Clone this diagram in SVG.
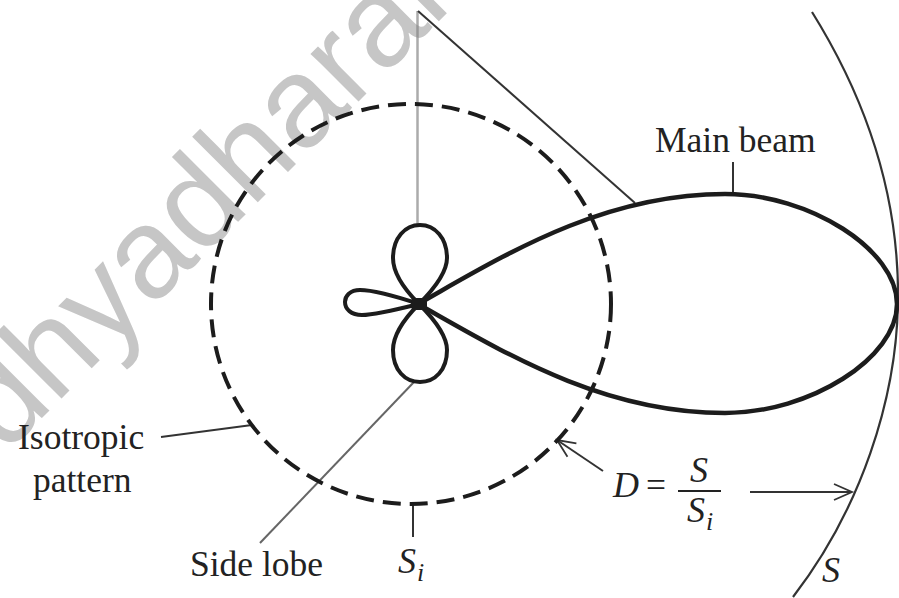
<svg xmlns="http://www.w3.org/2000/svg" width="899" height="598" viewBox="0 0 899 598">
<defs>
<marker id="open" markerUnits="userSpaceOnUse" markerWidth="24" markerHeight="20" refX="20" refY="10" orient="auto"><path d="M2 2 L20 10 L2 18" fill="none" stroke="#333" stroke-width="1.8"/></marker>
</defs>
<style>
.lab{font-family:"Liberation Serif",serif;font-size:35.5px;fill:#222}
.it{font-family:"Liberation Serif",serif;font-style:italic;font-size:36px;fill:#222}
.sub{font-size:26px}
.thin{fill:none;stroke:#333;stroke-width:2}
.lobe{fill:none;stroke:#1c1c1c;stroke-width:4.5}
.wm{font-family:"Liberation Sans",sans-serif;font-size:128px;fill:#c6c6c6}
</style>
<rect width="899" height="598" fill="#fff"/>
<text id="watermark" class="wm" transform="translate(5 455) rotate(-45)">dhyadharal</text>
<g id="connectors">
<path class="thin" d="M417.5 11V225" style="stroke:#808080;stroke-opacity:.66;stroke-width:2.5"/>
<path class="thin" d="M418 11L635 203"/>
<path class="thin" d="M414 382L260 543" style="stroke:#666"/>
<path class="thin" d="M733 162V194"/>
<path class="thin" d="M161 437L252 425"/>
<path class="thin" d="M413 503V537"/>
<path class="thin" d="M603 471L557 440" marker-end="url(#open)"/>
<path class="thin" d="M750 492H852" marker-end="url(#open)"/>
</g>
<g id="isotropic"><circle cx="411" cy="304" r="200" fill="none" stroke="#1c1c1c" stroke-width="4" stroke-dasharray="18 9.03"/></g>
<g id="sphere"><path class="thin" d="M812 12C870 105 899 200 898 300C897 400 860 510 793 597" style="stroke-width:2.2"/></g>
<g id="main-beam"><path class="lobe" d="M418 304C500 258 600 194 725 194C810 194 897 250 897 304C897 358 810 413 725 413C600 413 500 350 418 304Z"/></g>
<g id="side-lobes">
<path class="lobe" style="stroke-width:4" d="M419 304C400 285 393 270 393 258C393 238 405 225 420 225C435 225 447 238 447 258C447 270 438 285 419 304Z"/>
<path class="lobe" style="stroke-width:4" d="M419 304C400 323 393 338 393 350C393 370 405 382 420 382C435 382 447 370 447 350C447 338 438 323 419 304Z"/>
<path class="lobe" style="stroke-width:4" d="M419 304C395 296 375 290 360 290C350 290 345 296 345 302C345 309 351 315 362 315C375 315 395 310 419 304Z"/>
<rect x="411" y="298" width="16" height="12" rx="4" fill="#1c1c1c"/>
</g>
<g id="labels">
<text class="lab" x="655" y="152">Main beam</text>
<text class="lab" x="18" y="449">Isotropic</text>
<text class="lab" x="33" y="492">pattern</text>
<text class="lab" x="190" y="576">Side lobe</text>
<text class="it" x="398" y="573">S</text><text class="it sub" x="417" y="581">i</text>
<text class="it" x="613" y="497">D</text>
<text class="lab" x="646" y="497">=</text>
<path d="M678 491H721" stroke="#222" stroke-width="2" fill="none"/>
<text class="it" x="690" y="482">S</text>
<text class="it" x="687" y="522">S</text><text class="it sub" x="706" y="530">i</text>
<text class="it" x="822" y="582">S</text>
</g>
</svg>
